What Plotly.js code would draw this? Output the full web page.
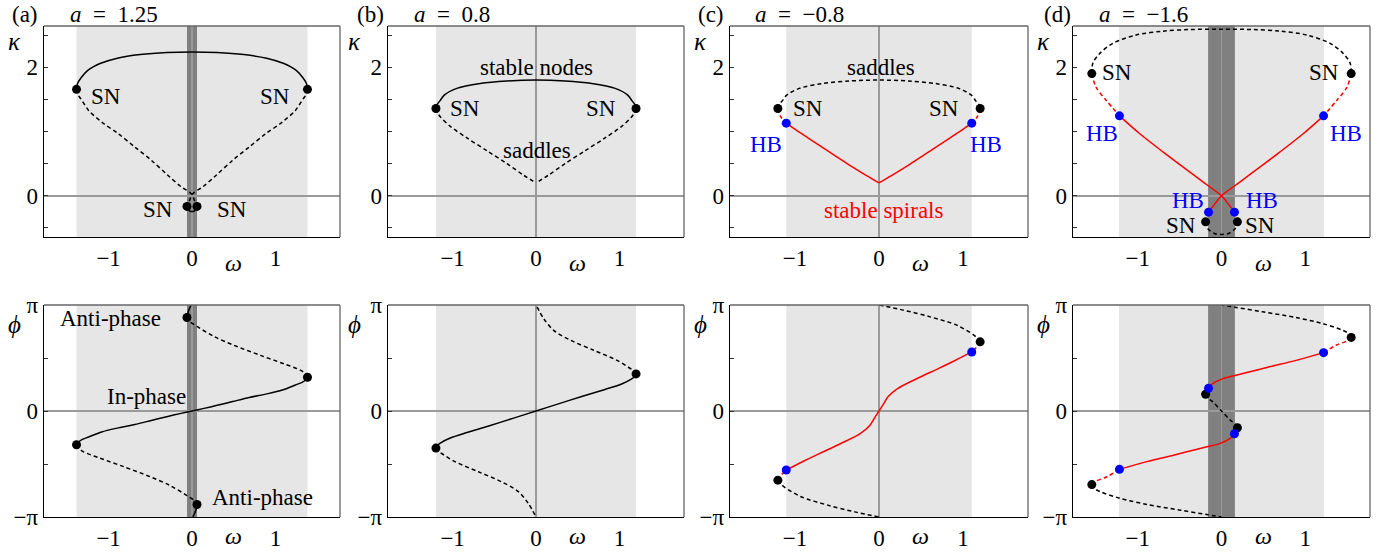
<!DOCTYPE html>
<html><head><meta charset="utf-8">
<script src="https://cdn.plot.ly/plotly-3.0.1.min.js"></script>
<style>html,body{margin:0;padding:0;background:#fff}</style>
</head><body><div id="chart" style="width:1384px;height:554px"></div>
<script>
// ---------- axis / tick data ----------
const omegaRange = [-1.775, 1.775];
const omegaTicks = [-1, 0, 1];
const omegaTickText = ['\u22121', '0', '1'];
const kappaRange = [-0.64, 2.64];
const kappaTicks = [-0.5, 0, 0.5, 1, 1.5, 2, 2.5];
const kappaTickText = ['', '0', '', '', '', '2', ''];
const phiRange = [-Math.PI, Math.PI];
const phiTicks = [-Math.PI, -Math.PI/2, 0, Math.PI/2, Math.PI];
const phiTickText = ['\u2212\u03c0', '', '0', '', '\u03c0'];

const panelLetters = ['(a)', '(b)', '(c)', '(d)'];
const panelA = ['1.25', '0.8', '\u22120.8', '\u22121.6'];
const lightBandHalf = [1.385, 1.2, 1.105, 1.225];
const darkBandHalf = [0.06, 0, 0, 0.16];

// ---------- panel (a), a = 1.25 ----------
const aK_stable_w = [-1.385,-1.375,-1.33,-1.25,-1.095,-0.895,-0.62,-0.30,0,0.30,0.62,0.895,1.095,1.25,1.33,1.375,1.385];
const aK_stable_k = [1.655,1.74,1.835,1.95,2.06,2.14,2.196,2.227,2.235,2.227,2.196,2.14,2.06,1.95,1.835,1.74,1.655];
const aK_saddleL_w = [-1.385,-1.365,-1.32,-1.24,-1.083,-0.885,-0.687,-0.488,-0.29,-0.13,-0.012,0.03,0.06];
const aK_saddleL_k = [1.655,1.57,1.483,1.328,1.147,0.966,0.76,0.553,0.32,0.14,0.036,-0.07,-0.165];
const aK_saddleR_w = [1.385,1.365,1.32,1.24,1.083,0.885,0.687,0.488,0.29,0.13,0.012,-0.03,-0.06];
const aK_saddleR_k = [1.655,1.57,1.483,1.328,1.147,0.966,0.76,0.553,0.32,0.14,0.036,-0.07,-0.165];
const aK_loop_w = [-0.06,-0.045,-0.02,0,0.02,0.045,0.06];
const aK_loop_k = [-0.165,-0.215,-0.24,-0.245,-0.24,-0.215,-0.165];
const aK_sn_w = [-1.385,1.385,-0.06,0.06];
const aK_sn_k = [1.655,1.655,-0.165,-0.165];

const aP_inphase_w = [-1.385,-1.36,-1.32,-1.24,-1.083,-0.885,-0.687,-0.488,-0.29,-0.13,0,0.13,0.29,0.488,0.687,0.885,1.083,1.24,1.32,1.36,1.385];
const aP_inphase_p = [-1.0,-0.92,-0.85,-0.77,-0.62,-0.50,-0.40,-0.28,-0.16,-0.07,0,0.07,0.16,0.28,0.40,0.50,0.62,0.77,0.85,0.92,1.0];
const aP_upper_w = [1.385,1.36,1.30,1.10,0.82,0.50,0.27,0.07,-0.03,-0.06];
const aP_upper_p = [1.0,1.1,1.21,1.40,1.65,1.95,2.20,2.49,2.66,2.77];
const aP_lower_w = [-1.385,-1.36,-1.30,-1.10,-0.82,-0.50,-0.27,-0.07,0.03,0.06];
const aP_lower_p = [-1.0,-1.1,-1.21,-1.40,-1.65,-1.95,-2.20,-2.49,-2.66,-2.77];
const aP_antiTop_w = [-0.06,-0.045,-0.01];
const aP_antiTop_p = [2.77,2.95,3.1416];
const aP_antiBot_w = [0.06,0.045,0.01];
const aP_antiBot_p = [-2.77,-2.95,-3.1416];
const aP_sn_w = [-1.385,1.385,-0.06,0.06];
const aP_sn_p = [-1.0,1.0,2.77,-2.77];

// ---------- panel (b), a = 0.8 ----------
const bK_stable_w = [-1.2,-1.185,-1.15,-1.1,-0.95,-0.67,-0.35,0,0.35,0.67,0.95,1.1,1.15,1.185,1.2];
const bK_stable_k = [1.357,1.42,1.48,1.565,1.67,1.746,1.785,1.80,1.785,1.746,1.67,1.565,1.48,1.42,1.357];
const bK_saddleL_w = [-1.2,-1.18,-1.148,-1.028,-0.828,-0.588,-0.348,-0.148,0];
const bK_saddleL_k = [1.357,1.29,1.23,1.08,0.90,0.70,0.50,0.32,0.20];
const bK_saddleR_w = [1.2,1.18,1.148,1.028,0.828,0.588,0.348,0.148,0];
const bK_saddleR_k = [1.357,1.29,1.23,1.08,0.90,0.70,0.50,0.32,0.20];
const bK_sn_w = [-1.2,1.2];
const bK_sn_k = [1.357,1.357];

const bP_stable_w = [-1.2,-1.185,-1.148,-1.028,-0.828,-0.548,-0.268,0,0.268,0.548,0.828,1.028,1.148,1.185,1.2];
const bP_stable_p = [-1.1,-1.02,-0.95,-0.80,-0.64,-0.43,-0.21,0,0.21,0.43,0.64,0.80,0.95,1.02,1.1];
const bP_upper_w = [1.2,1.185,1.132,0.972,0.692,0.412,0.212,0.092,0.0];
const bP_upper_p = [1.1,1.18,1.26,1.50,1.80,2.10,2.39,2.74,3.1416];
const bP_lower_w = [-1.2,-1.185,-1.132,-0.972,-0.692,-0.412,-0.212,-0.092,0.0];
const bP_lower_p = [-1.1,-1.18,-1.26,-1.50,-1.80,-2.10,-2.39,-2.74,-3.1416];
const bP_sn_w = [-1.2,1.2];
const bP_sn_p = [-1.1,1.1];

// ---------- panel (c), a = -0.8 ----------
const cK_saddle_w = [-1.205,-1.19,-1.15,-1.1,-0.95,-0.67,-0.35,0,0.35,0.67,0.95,1.1,1.15,1.19,1.205];
const cK_saddle_k = [1.357,1.42,1.48,1.565,1.67,1.746,1.785,1.80,1.785,1.746,1.67,1.565,1.48,1.42,1.357];
const cK_unstL_w = [-1.205,-1.175,-1.105];
const cK_unstL_k = [1.357,1.24,1.13];
const cK_unstR_w = [1.205,1.175,1.105];
const cK_unstR_k = [1.357,1.24,1.13];
const cK_spiralL_w = [-1.105,-0.946,-0.747,-0.547,-0.347,-0.148,0];
const cK_spiralL_k = [1.13,0.985,0.815,0.645,0.475,0.315,0.2];
const cK_spiralR_w = [1.105,0.946,0.747,0.547,0.347,0.148,0];
const cK_spiralR_k = [1.13,0.985,0.815,0.645,0.475,0.315,0.2];
const cK_sn_w = [-1.205,1.205];
const cK_sn_k = [1.357,1.357];
const cK_hb_w = [-1.105,1.105];
const cK_hb_k = [1.13,1.13];

const cP_spiral_w = [-1.105,-0.9,-0.70,-0.46,-0.225,-0.107,-0.047,0,0.047,0.107,0.225,0.46,0.70,0.9,1.105];
const cP_spiral_p = [-1.75,-1.49,-1.25,-0.97,-0.67,-0.42,-0.18,0,0.18,0.42,0.67,0.97,1.25,1.49,1.75];
const cP_unstU_w = [1.205,1.165,1.105];
const cP_unstU_p = [2.05,1.90,1.75];
const cP_unstD_w = [-1.205,-1.165,-1.105];
const cP_unstD_p = [-2.05,-1.90,-1.75];
const cP_saddleU_w = [1.205,1.17,1.13,0.93,0.61,0.29,0];
const cP_saddleU_p = [2.05,2.16,2.25,2.54,2.79,2.99,3.1416];
const cP_saddleD_w = [-1.205,-1.17,-1.13,-0.93,-0.61,-0.29,0];
const cP_saddleD_p = [-2.05,-2.16,-2.25,-2.54,-2.79,-2.99,-3.1416];
const cP_sn_w = [-1.205,1.205];
const cP_sn_p = [-2.05,2.05];
const cP_hb_w = [-1.105,1.105];
const cP_hb_p = [-1.75,1.75];

// ---------- panel (d), a = -1.6 ----------
const dK_saddle_w = [-1.55,-1.538,-1.458,-1.299,-1.02,-0.70,-0.38,0,0.38,0.70,1.02,1.299,1.458,1.538,1.55];
const dK_saddle_k = [1.90,2.06,2.21,2.37,2.50,2.56,2.585,2.59,2.585,2.56,2.50,2.37,2.21,2.06,1.90];
const dK_unstOL_w = [-1.55,-1.50,-1.38,-1.22];
const dK_unstOL_k = [1.90,1.69,1.487,1.243];
const dK_unstOR_w = [1.55,1.50,1.38,1.22];
const dK_unstOR_k = [1.90,1.69,1.487,1.243];
const dK_spiralA_w = [-1.22,-0.98,-0.70,-0.462,-0.223,0,0.08,0.155];
const dK_spiralA_k = [1.243,0.969,0.684,0.45,0.218,0,-0.125,-0.254];
const dK_spiralB_w = [1.22,0.98,0.70,0.462,0.223,0,-0.08,-0.155];
const dK_spiralB_k = [1.243,0.969,0.684,0.45,0.218,0,-0.125,-0.254];
const dK_unstIL_w = [-0.155,-0.175,-0.19];
const dK_unstIL_k = [-0.254,-0.33,-0.404];
const dK_unstIR_w = [0.155,0.175,0.19];
const dK_unstIR_k = [-0.254,-0.33,-0.404];
const dK_saddleI_w = [-0.19,-0.165,-0.085,0,0.085,0.165,0.19];
const dK_saddleI_k = [-0.404,-0.508,-0.585,-0.60,-0.585,-0.508,-0.404];
const dK_sn_w = [-1.55,1.55,-0.19,0.19];
const dK_sn_k = [1.90,1.90,-0.404,-0.404];
const dK_hb_w = [-1.22,1.22,-0.155,0.155];
const dK_hb_k = [1.243,1.243,-0.254,-0.254];

const dP_spiralU_w = [-0.155,-0.104,0.016,0.255,0.574,0.892,1.22];
const dP_spiralU_p = [0.675,0.81,0.96,1.11,1.31,1.50,1.73];
const dP_spiralD_w = [0.155,0.104,-0.016,-0.255,-0.574,-0.892,-1.22];
const dP_spiralD_p = [-0.675,-0.81,-0.96,-1.11,-1.31,-1.50,-1.73];
const dP_unstOU_w = [1.22,1.37,1.5,1.55];
const dP_unstOU_p = [1.73,1.95,2.08,2.18];
const dP_unstOD_w = [-1.22,-1.37,-1.5,-1.55];
const dP_unstOD_p = [-1.73,-1.95,-2.08,-2.18];
const dP_saddleOU_w = [1.55,1.53,1.45,1.21,0.89,0.49,0.175,0];
const dP_saddleOU_p = [2.18,2.28,2.39,2.59,2.77,2.94,3.07,3.1416];
const dP_saddleOD_w = [-1.55,-1.53,-1.45,-1.21,-0.89,-0.49,-0.175,0];
const dP_saddleOD_p = [-2.18,-2.28,-2.39,-2.59,-2.77,-2.94,-3.07,-3.1416];
const dP_unstIU_w = [-0.155,-0.18,-0.19];
const dP_unstIU_p = [0.675,0.59,0.495];
const dP_unstID_w = [0.155,0.18,0.19];
const dP_unstID_p = [-0.675,-0.59,-0.495];
const dP_saddleI_w = [-0.19,-0.175,-0.104,0,0.104,0.175,0.19];
const dP_saddleI_p = [0.495,0.41,0.27,0,-0.27,-0.41,-0.495];
const dP_sn_w = [1.55,-1.55,-0.19,0.19];
const dP_sn_p = [2.18,-2.18,0.495,-0.495];
const dP_hb_w = [1.22,-1.22,-0.155,0.155];
const dP_hb_p = [1.73,-1.73,0.675,-0.675];

// ---------- in-plot labels (data coordinates) ----------
const labelText = ['SN','SN','SN','SN','Anti-phase','In-phase','Anti-phase',
  'stable nodes','SN','SN','saddles',
  'saddles','SN','SN','HB','HB','stable spirals',
  'SN','SN','HB','HB','HB','HB','SN','SN'];
const labelW = [-1.03,0.99,-0.41,0.48,-0.98,-0.55,0.85,
  0.01,-0.85,0.78,0.01,
  0.02,-0.84,0.78,-1.35,1.28,0.05,
  -1.25,1.22,-1.43,1.49,-0.40,0.48,-0.48,0.46];
const labelV = [1.54,1.54,-0.22,-0.22,2.74,0.42,-2.57,
  2.0,1.357,1.357,0.71,
  2.0,1.357,1.357,0.80,0.80,-0.23,
  1.91,1.91,0.97,0.97,-0.07,-0.07,-0.456,-0.456];
const labelPanel = [1,1,1,1,5,5,5, 2,2,2,2, 3,3,3,3,3,3, 4,4,4,4,4,4,4,4];
const labelKind = ['k','k','k','k','k','k','k', 'k','k','k','k', 'k','k','k','b','b','r', 'k','k','b','b','b','b','k','k'];

// ---------- drawing ----------
const COL = {k:'#000000', r:'#ff0000', b:'#0000ff'};
const branches = [
  [aK_stable_w,aK_stable_k,1,'k','solid'],[aK_saddleL_w,aK_saddleL_k,1,'k','dash'],[aK_saddleR_w,aK_saddleR_k,1,'k','dash'],[aK_loop_w,aK_loop_k,1,'k','solid'],
  [aP_inphase_w,aP_inphase_p,5,'k','solid'],[aP_upper_w,aP_upper_p,5,'k','dash'],[aP_lower_w,aP_lower_p,5,'k','dash'],[aP_antiTop_w,aP_antiTop_p,5,'k','solid'],[aP_antiBot_w,aP_antiBot_p,5,'k','solid'],
  [bK_stable_w,bK_stable_k,2,'k','solid'],[bK_saddleL_w,bK_saddleL_k,2,'k','dash'],[bK_saddleR_w,bK_saddleR_k,2,'k','dash'],
  [bP_stable_w,bP_stable_p,6,'k','solid'],[bP_upper_w,bP_upper_p,6,'k','dash'],[bP_lower_w,bP_lower_p,6,'k','dash'],
  [cK_saddle_w,cK_saddle_k,3,'k','dash'],[cK_unstL_w,cK_unstL_k,3,'r','dash'],[cK_unstR_w,cK_unstR_k,3,'r','dash'],[cK_spiralL_w,cK_spiralL_k,3,'r','solid'],[cK_spiralR_w,cK_spiralR_k,3,'r','solid'],
  [cP_spiral_w,cP_spiral_p,7,'r','solid'],[cP_unstU_w,cP_unstU_p,7,'r','dash'],[cP_unstD_w,cP_unstD_p,7,'r','dash'],[cP_saddleU_w,cP_saddleU_p,7,'k','dash'],[cP_saddleD_w,cP_saddleD_p,7,'k','dash'],
  [dK_saddle_w,dK_saddle_k,4,'k','dash'],[dK_unstOL_w,dK_unstOL_k,4,'r','dash'],[dK_unstOR_w,dK_unstOR_k,4,'r','dash'],[dK_spiralA_w,dK_spiralA_k,4,'r','solid'],[dK_spiralB_w,dK_spiralB_k,4,'r','solid'],
  [dK_unstIL_w,dK_unstIL_k,4,'r','dash'],[dK_unstIR_w,dK_unstIR_k,4,'r','dash'],[dK_saddleI_w,dK_saddleI_k,4,'k','dash'],
  [dP_spiralU_w,dP_spiralU_p,8,'r','solid'],[dP_spiralD_w,dP_spiralD_p,8,'r','solid'],[dP_unstOU_w,dP_unstOU_p,8,'r','dash'],[dP_unstOD_w,dP_unstOD_p,8,'r','dash'],
  [dP_saddleOU_w,dP_saddleOU_p,8,'k','dash'],[dP_saddleOD_w,dP_saddleOD_p,8,'k','dash'],[dP_unstIU_w,dP_unstIU_p,8,'r','dash'],[dP_unstID_w,dP_unstID_p,8,'r','dash'],[dP_saddleI_w,dP_saddleI_p,8,'k','dash']
];
const dots = [
  [aK_sn_w,aK_sn_k,1,'k'],[aP_sn_w,aP_sn_p,5,'k'],
  [bK_sn_w,bK_sn_k,2,'k'],[bP_sn_w,bP_sn_p,6,'k'],
  [cK_sn_w,cK_sn_k,3,'k'],[cK_hb_w,cK_hb_k,3,'b'],[cP_sn_w,cP_sn_p,7,'k'],[cP_hb_w,cP_hb_p,7,'b'],
  [dK_sn_w,dK_sn_k,4,'k'],[dK_hb_w,dK_hb_k,4,'b'],[dP_sn_w,dP_sn_p,8,'k'],[dP_hb_w,dP_hb_p,8,'b']
];

const W = 1384, H = 554;
const colPx = [[44,340],[388,684],[730,1028],[1073,1370]];
const rowPx = [[26,237],[305,517]];
const px = x => x / W, py = y => 1 - y / H;
const ax = n => (n === 1 ? '' : String(n));
const FONT = 'Liberation Serif, Times New Roman, serif';
const NB = '\u00a0';

const traces = [];
branches.forEach(b => {
  traces.push({type:'scatter', mode:'lines', x:b[0], y:b[1], xaxis:'x'+ax(b[2]), yaxis:'y'+ax(b[2]),
    line:{color:COL[b[3]], width:1.5, dash:b[4]==='dash'?'4px,3px':'solid', shape:'spline', smoothing:0.9},
    hoverinfo:'skip', cliponaxis:true});
});
dots.forEach(d => {
  traces.push({type:'scatter', mode:'markers', x:d[0], y:d[1], xaxis:'x'+ax(d[2]), yaxis:'y'+ax(d[2]),
    marker:{color:COL[d[3]], size:9, line:{width:0}}, hoverinfo:'skip', cliponaxis:false});
});

const layout = {width:W, height:H, margin:{l:0,r:0,t:0,b:0}, showlegend:false,
  paper_bgcolor:'white', plot_bgcolor:'white', hovermode:false,
  font:{family:FONT, size:23, color:'black'}, shapes:[], annotations:[]};

function note(o) { layout.annotations.push(Object.assign({showarrow:false, xanchor:'center', yanchor:'middle'}, o)); }

for (let r = 0; r < 2; r++) for (let c = 0; c < 4; c++) {
  const n = r*4 + c + 1;
  layout['xaxis'+ax(n)] = {domain:[px(colPx[c][0]), px(colPx[c][1])], range:omegaRange, anchor:'y'+ax(n),
    tickmode:'array', tickvals:omegaTicks, ticktext:omegaTickText, ticks:'', showgrid:false,
    zeroline:true, zerolinecolor:'#9a9a9a', zerolinewidth:1.5, showline:true, linecolor:'#000', linewidth:1.3,
    mirror:false, fixedrange:true, tickfont:{family:FONT, size:23, color:'#000'}};
  layout['yaxis'+ax(n)] = {domain:[py(rowPx[r][1]), py(rowPx[r][0])], range:r===0?kappaRange:phiRange, anchor:'x'+ax(n),
    tickmode:'array', tickvals:r===0?kappaTicks:phiTicks, ticktext:r===0?kappaTickText:phiTickText,
    ticks:'inside', ticklen:4, tickwidth:1, tickcolor:'#333', showgrid:false,
    zeroline:true, zerolinecolor:'#9a9a9a', zerolinewidth:1.5, showline:true, linecolor:'#000', linewidth:1.3,
    mirror:false, fixedrange:true, tickfont:{family:FONT, size:23, color:'#000'}};
  const xr = 'x'+ax(n), yr = 'y'+ax(n);
  layout.shapes.push({type:'rect', xref:xr, yref:yr+' domain', x0:-lightBandHalf[c], x1:lightBandHalf[c], y0:0, y1:1,
    fillcolor:'#e6e6e6', line:{width:0}, layer:'below'});
  if (darkBandHalf[c] > 0) layout.shapes.push({type:'rect', xref:xr, yref:yr+' domain', x0:-darkBandHalf[c], x1:darkBandHalf[c], y0:0, y1:1,
    fillcolor:'#808080', line:{width:0}, layer:'below'});
  layout.shapes.push({type:'line', xref:xr+' domain', yref:yr+' domain', x0:0, x1:1, y0:1, y1:1, line:{color:'#666', width:1.3}});
  layout.shapes.push({type:'line', xref:xr+' domain', yref:yr+' domain', x0:1, x1:1, y0:0, y1:1, line:{color:'#666', width:1.3}});
  // axis symbols
  note({xref:xr, yref:'paper', x:0.5, y:py(r===0?263:536), text:'<i>\u03c9</i>', font:{size:24}});
  const symX = [14, 355, 700, 1043][c];
  note({xref:'paper', yref:'paper', x:px(symX), y:py(r===0?42:324), text:r===0?'<i>\u03ba</i>':'<i>\u03d5</i>', font:{size:25}});
  if (r === 0) {
    note({xref:'paper', yref:'paper', x:px([25,370,711,1057][c]), y:py(14), text:panelLetters[c], font:{size:23}});
    note({xref:'paper', yref:'paper', x:px([68,412,753,1097][c]), xanchor:'left', y:py(14),
      text:'<i>a</i>' + NB + NB + '=' + NB + NB + panelA[c], font:{size:23}});
  }
}
labelText.forEach((t, i) => {
  const n = labelPanel[i];
  note({xref:'x'+ax(n), yref:'y'+ax(n), x:labelW[i], y:labelV[i], text:t, font:{size:23, color:COL[labelKind[i]]}});
});

Plotly.newPlot('chart', traces, layout, {staticPlot:true, displayModeBar:false});
</script></body></html>
